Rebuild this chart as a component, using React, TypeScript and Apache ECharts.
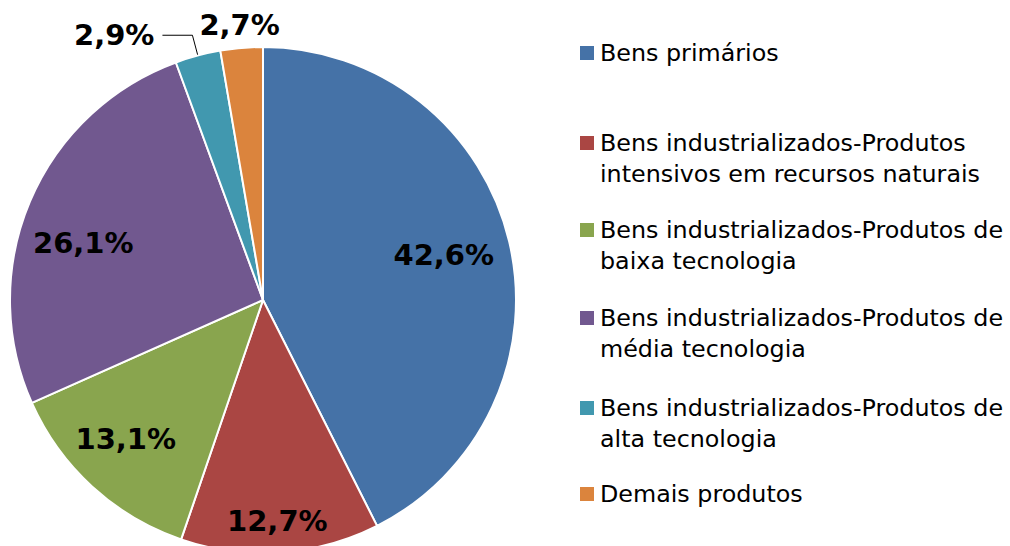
import React, { useEffect, useRef } from "react";
import * as echarts from "echarts";

const categories = [
  "Bens primários",
  "Bens industrializados-Produtos intensivos em recursos naturais",
  "Bens industrializados-Produtos de baixa tecnologia",
  "Bens industrializados-Produtos de média tecnologia",
  "Bens industrializados-Produtos de alta tecnologia",
  "Demais produtos",
];
const legendLines = [
  ["Bens primários"],
  ["Bens industrializados-Produtos", "intensivos em recursos naturais"],
  ["Bens industrializados-Produtos de", "baixa tecnologia"],
  ["Bens industrializados-Produtos de", "média tecnologia"],
  ["Bens industrializados-Produtos de", "alta tecnologia"],
  ["Demais produtos"],
];
const shares = [42.6, 12.7, 13.1, 26.1, 2.9, 2.7];
const colors = ["#4572A7", "#AA4643", "#89A54E", "#71588F", "#4198AF", "#DB843D"];

const FONT = "DejaVu Sans";
const fmt = (v: number) => v.toFixed(1).replace(".", ",") + "%";

export default function App() {
  const ref = useRef<HTMLDivElement>(null);
  useEffect(() => {
    if (!ref.current) return;
    const chart = echarts.init(ref.current, null, { renderer: "svg" });
    const center = [263, 300];
    const labelFont = { fontFamily: FONT, fontWeight: "bold" as const, fontSize: 29, color: "#000" };
    const firstLineY = [53, 143, 230, 318, 408, 494];
    const LH = 31;
    const legends = categories.map((name, i) => {
      const multi = legendLines[i].length > 1;
      return {
        data: [name],
        orient: "vertical" as const,
        left: 578,
        top: firstLineY[i] - (multi ? LH * 1.5 : LH / 2),
        padding: 0,
        itemWidth: 16,
        itemHeight: 16,
        icon: "rect",
        selectedMode: false,
        formatter: () => (multi ? "\n" : "") + legendLines[i].join("\n"),
        textStyle: {
          fontFamily: FONT,
          fontSize: 23.8,
          lineHeight: LH,
          color: "#000",
        },
      };
    });
    const baseData = categories.map((name, i) => ({ name, value: shares[i] }));
    chart.setOption({
      animation: false,
      color: colors,
      legend: legends,
      series: [
        {
          type: "pie",
          center,
          radius: 253,
          startAngle: 90,
          clockwise: true,
          avoidLabelOverlap: false,
          itemStyle: { borderColor: "#fff", borderWidth: 2 },
          emphasis: { disabled: true },
          data: baseData.map((d, i) => ({
            ...d,
            label:
              i === 4
                ? { show: true, position: "outside", distanceToLabelLine: 8, ...labelFont, formatter: (p: any) => fmt(p.value) }
                : { show: false },
            labelLine:
              i === 4
                ? { show: true, length: 21, length2: 30, lineStyle: { color: "#000", width: 1 } }
                : { show: false },
          })),
        },
        {
          type: "pie",
          center,
          radius: [0, 380],
          startAngle: 90,
          silent: true,
          avoidLabelOverlap: false,
          itemStyle: { color: "transparent", borderWidth: 0 },
          emphasis: { disabled: true },
          labelLine: { show: false },
          label: { show: true, position: "inside", ...labelFont, formatter: (p: any) => fmt(p.value) },
          labelLayout: (p: any) => {
            const tweaks: Record<number, { dx: number; dy: number }> = {
              0: { dx: -7, dy: 0 },
              1: { dx: 1, dy: 28 },
              2: { dx: -7, dy: -3 },
              3: { dx: -2, dy: 18 },
            };
            return tweaks[p.dataIndex] || {};
          },
          data: baseData.map((d, i) => ({ ...d, label: { show: i < 4 } })),
        },
        {
          type: "pie",
          center,
          radius: [252, 294],
          startAngle: 90,
          silent: true,
          avoidLabelOverlap: false,
          itemStyle: { color: "transparent", borderWidth: 0 },
          emphasis: { disabled: true },
          labelLine: { show: false },
          label: { show: true, position: "inside", ...labelFont, formatter: (p: any) => fmt(p.value) },
          data: baseData.map((d, i) => ({ ...d, label: { show: i === 5 } })),
        },
      ],
    });
    return () => chart.dispose();
  }, []);
  return (
    <div
      ref={ref}
      style={{ position: "absolute", left: 0, top: 0, width: 1010, height: 546, background: "#fff" }}
    />
  );
}
